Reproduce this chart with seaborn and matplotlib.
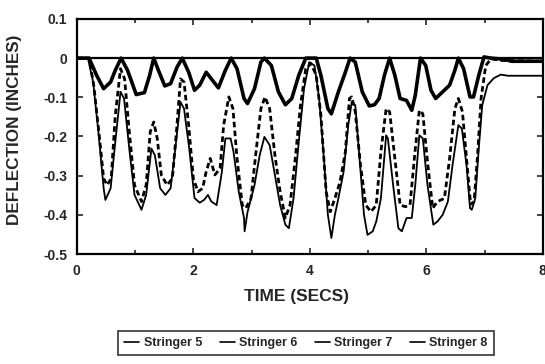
import matplotlib
matplotlib.use("Agg")
import matplotlib.pyplot as plt
import pandas as pd
import seaborn as sns
from matplotlib.ticker import FixedLocator, FuncFormatter

sns.set_theme(style="ticks")
plt.rcParams["font.family"] = ["Liberation Sans", "DejaVu Sans"]
plt.rcParams["font.weight"] = "bold"

# ---------------------------------------------------------------------
# Data (time in seconds, deflection in inches)
# ---------------------------------------------------------------------
SERIES_NAMES = ["Stringer 5", "Stringer 6", "Stringer 7", "Stringer 8"]

# Stringer 5: flat trace at zero
T5 = [0.0, 8.0]
D5 = [0.0, 0.0]

# Stringer 6: shallow trace (upper band)
T6 = [0.00, 0.21, 0.34, 0.46, 0.58, 0.66, 0.76, 0.87, 1.02, 1.16, 1.25, 1.32,
      1.40, 1.51, 1.61, 1.72, 1.81, 1.92, 2.02, 2.11, 2.22, 2.31, 2.43, 2.55,
      2.65, 2.75, 2.87, 2.93, 3.05, 3.16, 3.22, 3.34, 3.46, 3.58, 3.69, 3.81,
      3.93, 4.11, 4.19, 4.31, 4.37, 4.49, 4.61, 4.69, 4.78, 4.90, 5.02, 5.11,
      5.19, 5.28, 5.37, 5.46, 5.55, 5.66, 5.75, 5.81, 5.90, 5.99, 6.08, 6.16,
      6.28, 6.40, 6.49, 6.55, 6.64, 6.75, 6.81, 6.90, 6.99, 7.11, 7.34, 7.46,
      8.00]
D6 = [0.000, 0.000, -0.044, -0.078, -0.061, -0.031, 0.000, -0.031, -0.093,
      -0.088, -0.044, 0.000, -0.031, -0.071, -0.065, -0.023, 0.000, -0.036,
      -0.082, -0.069, -0.036, -0.053, -0.076, -0.031, 0.000, -0.027, -0.103,
      -0.116, -0.078, -0.010, 0.000, -0.019, -0.086, -0.119, -0.103, -0.044,
      0.000, 0.000, -0.044, -0.129, -0.142, -0.086, -0.036, 0.000, -0.010,
      -0.086, -0.122, -0.119, -0.103, -0.044, 0.000, -0.044, -0.103, -0.108,
      -0.133, -0.095, 0.000, -0.019, -0.082, -0.103, -0.086, -0.069, -0.031,
      0.000, -0.027, -0.099, -0.099, -0.044, 0.003, 0.000, -0.003, -0.008,
      -0.008]

# Stringer 7: deep dashed trace
T7 = [0.00, 0.21, 0.29, 0.39, 0.46, 0.52, 0.59, 0.66, 0.75, 0.82, 0.90, 0.99,
      1.11, 1.19, 1.26, 1.32, 1.38, 1.45, 1.55, 1.64, 1.71, 1.78, 1.84, 1.92,
      2.00, 2.08, 2.16, 2.22, 2.29, 2.37, 2.46, 2.52, 2.61, 2.68, 2.75, 2.84,
      2.90, 2.99, 3.07, 3.16, 3.23, 3.31, 3.40, 3.49, 3.58, 3.66, 3.75, 3.84,
      3.93, 4.02, 4.11, 4.19, 4.28, 4.35, 4.43, 4.52, 4.61, 4.68, 4.72, 4.78,
      4.87, 4.96, 5.05, 5.14, 5.22, 5.31, 5.37, 5.46, 5.55, 5.64, 5.72, 5.80,
      5.88, 5.94, 6.02, 6.11, 6.19, 6.31, 6.40, 6.49, 6.55, 6.62, 6.69, 6.76,
      6.82, 6.88, 6.94, 7.02, 7.11, 7.30, 8.00]
D7 = [0.000, 0.000, -0.069, -0.205, -0.307, -0.324, -0.307, -0.146, -0.027,
      -0.053, -0.188, -0.324, -0.366, -0.324, -0.188, -0.163, -0.205, -0.298,
      -0.324, -0.307, -0.188, -0.053, -0.061, -0.171, -0.307, -0.341, -0.332,
      -0.290, -0.256, -0.298, -0.281, -0.171, -0.099, -0.129, -0.256, -0.375,
      -0.383, -0.358, -0.247, -0.129, -0.099, -0.129, -0.247, -0.341, -0.408,
      -0.375, -0.256, -0.120, -0.027, -0.014, -0.044, -0.146, -0.341, -0.392,
      -0.358, -0.315, -0.239, -0.103, -0.099, -0.137, -0.273, -0.375, -0.392,
      -0.375, -0.239, -0.129, -0.137, -0.256, -0.375, -0.379, -0.375, -0.247,
      -0.133, -0.142, -0.264, -0.383, -0.366, -0.358, -0.256, -0.129, -0.103,
      -0.137, -0.256, -0.373, -0.366, -0.247, -0.103, -0.019, -0.002, -0.006,
      -0.008]

# Stringer 8: deep solid trace
T8 = [0.00, 0.19, 0.28, 0.37, 0.46, 0.49, 0.58, 0.66, 0.75, 0.81, 0.90, 0.99,
      1.11, 1.19, 1.28, 1.34, 1.43, 1.52, 1.61, 1.69, 1.78, 1.84, 1.93, 2.02,
      2.11, 2.19, 2.25, 2.31, 2.40, 2.49, 2.55, 2.64, 2.69, 2.78, 2.87, 2.88,
      2.93, 3.05, 3.14, 3.22, 3.31, 3.40, 3.49, 3.58, 3.64, 3.72, 3.81, 3.90,
      3.99, 4.08, 4.16, 4.25, 4.31, 4.37, 4.43, 4.49, 4.58, 4.66, 4.72, 4.78,
      4.84, 4.93, 4.99, 5.08, 5.14, 5.22, 5.31, 5.34, 5.43, 5.52, 5.58, 5.66,
      5.75, 5.81, 5.88, 5.94, 6.02, 6.12, 6.19, 6.28, 6.37, 6.45, 6.55, 6.61,
      6.69, 6.75, 6.78, 6.84, 6.90, 6.96, 7.05, 7.16, 7.28, 7.40, 8.00]
D8 = [0.000, 0.000, -0.061, -0.188, -0.332, -0.362, -0.332, -0.214, -0.086,
      -0.103, -0.231, -0.349, -0.387, -0.349, -0.231, -0.248, -0.332, -0.349,
      -0.332, -0.231, -0.112, -0.129, -0.231, -0.357, -0.369, -0.361, -0.349,
      -0.366, -0.375, -0.290, -0.205, -0.205, -0.239, -0.341, -0.408, -0.442,
      -0.393, -0.324, -0.247, -0.201, -0.222, -0.298, -0.375, -0.425, -0.434,
      -0.358, -0.214, -0.078, -0.010, -0.019, -0.103, -0.273, -0.400, -0.459,
      -0.400, -0.358, -0.290, -0.171, -0.112, -0.120, -0.231, -0.400, -0.451,
      -0.442, -0.417, -0.358, -0.197, -0.205, -0.324, -0.434, -0.442, -0.408,
      -0.408, -0.324, -0.197, -0.205, -0.324, -0.425, -0.417, -0.400, -0.366,
      -0.273, -0.171, -0.180, -0.273, -0.383, -0.387, -0.358, -0.231, -0.120,
      -0.069, -0.051, -0.042, -0.045, -0.045]

X_TICKS = [0, 2, 4, 6, 8]
Y_TICKS = [0.1, 0.0, -0.1, -0.2, -0.3, -0.4, -0.5]

# ---------------------------------------------------------------------
# Plot
# ---------------------------------------------------------------------
STYLES = {
    "Stringer 5": dict(lw=1.6, ls="-"),
    "Stringer 6": dict(lw=2.6, ls="-"),
    "Stringer 7": dict(lw=2.0, ls=(0, (2.0, 1.2))),
    "Stringer 8": dict(lw=1.3, ls="-"),
}

fig = plt.figure(figsize=(5.45, 3.64), dpi=100)
ax = fig.add_axes([0.141, 0.302, 0.855, 0.646])

data = {
    "Stringer 5": (T5, D5),
    "Stringer 6": (T6, D6),
    "Stringer 7": (T7, D7),
    "Stringer 8": (T8, D8),
}
for name in SERIES_NAMES:
    t, d = data[name]
    df = pd.DataFrame({"time": t, "defl": d})
    sns.lineplot(data=df, x="time", y="defl", ax=ax, color="black",
                 linewidth=STYLES[name]["lw"], linestyle=STYLES[name]["ls"],
                 label=name, estimator=None, sort=False,
                 solid_joinstyle="round", dash_joinstyle="round")

ax.set_xlim(0, 8)
ax.set_ylim(-0.5, 0.1)
ax.xaxis.set_major_locator(FixedLocator(X_TICKS))
ax.xaxis.set_minor_locator(FixedLocator([1, 3, 5, 7]))
ax.yaxis.set_major_locator(FixedLocator(Y_TICKS))
ax.yaxis.set_major_formatter(FuncFormatter(lambda v, p: "0" if abs(v) < 1e-9 else f"{v:.1f}"))
ax.tick_params(which="both", direction="in", top=True, right=True, width=1.2,
               labelsize=10, pad=7)
ax.tick_params(which="major", length=4)
ax.tick_params(which="minor", length=3)
for lab in ax.get_xticklabels() + ax.get_yticklabels():
    lab.set_fontweight("bold")
for sp in ax.spines.values():
    sp.set_linewidth(1.6)
    sp.set_color("black")

ax.set_xlabel("TIME (SECS)", fontsize=12.5, fontweight="bold")
ax.xaxis.set_label_coords((297 - 77) / 466, -0.15)
ax.set_ylabel("DEFLECTION (INCHES)", fontsize=12.3, fontweight="bold")
ax.yaxis.set_label_coords(-0.118, 0.53)

leg = ax.legend(loc="upper center", bbox_to_anchor=(0.492, -0.3), ncol=4,
                frameon=True, fancybox=False, handlelength=1.2,
                handletextpad=0.35, columnspacing=1.4, borderpad=0.5,
                prop={"size": 9, "weight": "bold"})
leg.get_frame().set_edgecolor("black")
leg.get_frame().set_linewidth(1.2)
for line in leg.get_lines():
    line.set_linewidth(1.2)
    line.set_linestyle("-")

fig.savefig("out.png", dpi=100)
